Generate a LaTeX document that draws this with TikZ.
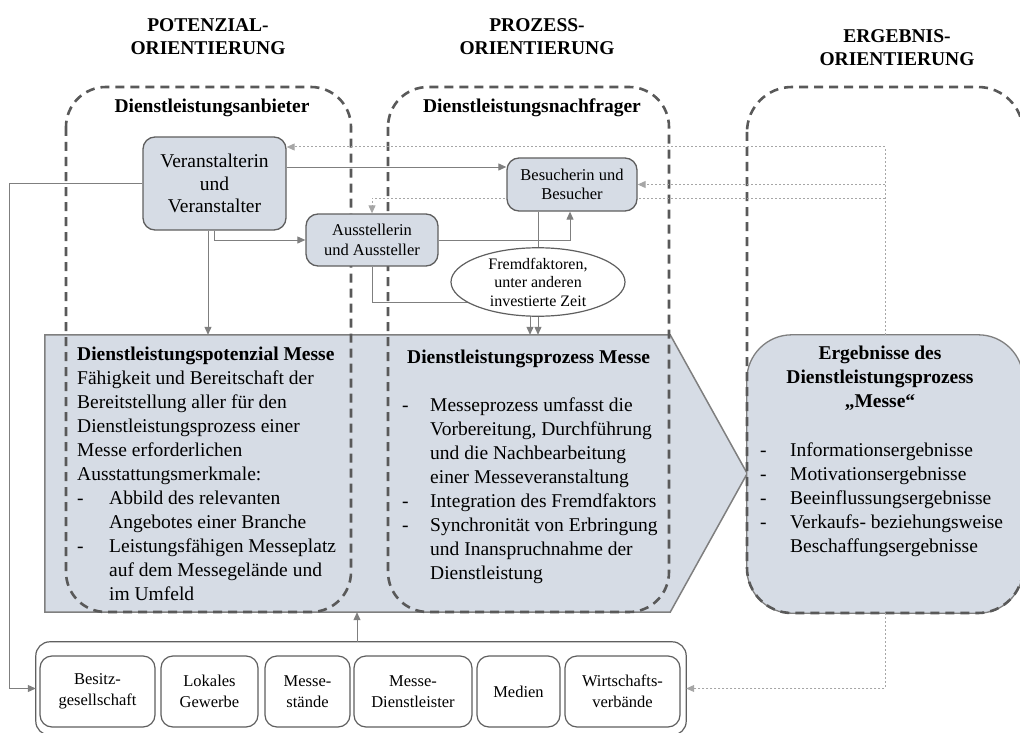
\documentclass[tikz,border=0pt]{standalone}
\usepackage{fontspec}
\setmainfont{Liberation Serif}
\usetikzlibrary{arrows.meta,shapes.geometric}

\definecolor{boxfill}{HTML}{D6DCE5}
\definecolor{boxline}{HTML}{5F5F5F}
\definecolor{connline}{HTML}{7F7F7F}
\definecolor{dotline}{HTML}{A6A6A6}
\definecolor{colline}{HTML}{595959}

\newcommand{\bodyfont}{\fontsize{19.5}{24}\selectfont}
\newcommand{\actorfont}{\fontsize{19.5}{22.5}\selectfont}
\newcommand{\smallfont}{\fontsize{16.5}{19.5}\selectfont}
\newcommand{\tinyfont}{\fontsize{16}{18.5}\selectfont}
\newcommand{\rowfont}{\fontsize{16.5}{21.5}\selectfont}
\newcommand{\headfont}{\fontsize{19.5}{23}\selectfont\bfseries}

\pgfdeclarelayer{back}
\pgfdeclarelayer{links}
\pgfsetlayers{back,links,main}

\begin{document}
\begin{tikzpicture}[x=1pt,y=-1pt,
  column/.style={draw=colline, line width=2.6pt, dash pattern=on 9pt off 6pt, rounded corners=40pt},
  actor/.style={draw=boxline, line width=1.3pt, fill=boxfill, rounded corners=12pt,
                align=center, inner sep=0pt},
  member/.style={draw=boxline, line width=1.2pt, fill=white, rounded corners=12pt,
                 align=center, inner sep=0pt, minimum height=71pt, font=\rowfont},
  conn/.style={draw=connline, line width=1pt},
  dotconn/.style={draw=dotline, line width=1pt, dash pattern=on 2pt off 2pt},
  arrowed/.style={-{Triangle[length=8pt,width=7pt]}},
  header/.style={align=center, font=\headfont, inner sep=0pt},
  label/.style={font=\fontsize{19.5}{23}\selectfont\bfseries, inner sep=0pt},
  textblock/.style={anchor=base west, inner sep=0pt}
]
\useasboundingbox (0,0) rectangle (1020,733);

% orientation headings
\node[header] (hPot)  at (208,37) {POTENZIAL-\\ORIENTIERUNG};
\node[header] (hProz) at (537,37) {PROZESS-\\ORIENTIERUNG};
\node[header] (hErg)  at (897,48) {ERGEBNIS-\\ORIENTIERUNG};

% service process (pentagon) and results box, with the dashed columns on top
\node[minimum width=625pt, minimum height=277pt, inner sep=0pt] (mainbox) at (357.5,473.5) {};
\node[minimum width=276pt, minimum height=278pt, inner sep=0pt] (ergeb) at (885,474) {};
\begin{pgfonlayer}{back}
\begin{scope}
\clip (0,0) rectangle (1020,733);
\draw[draw=connline, line width=1.5pt, fill=boxfill]
  (mainbox.north west) -- (mainbox.north east) -- ([xshift=77pt]mainbox.east)
  -- (mainbox.south east) -- (mainbox.south west) -- cycle;
\draw[draw=connline, line width=1.3pt, fill=boxfill, rounded corners=45pt]
  (ergeb.north west) rectangle (ergeb.south east);
\draw[column] (66,87) rectangle (351,612);
\draw[column] (388,87) rectangle (669,612);
\draw[column, rounded corners=45pt] (747,87) rectangle (1023,613);
\end{scope}
\end{pgfonlayer}

\node[label] (lAnb) at (212,108) {Dienstleistungsanbieter};
\node[label] (lNach) at (532,108) {Dienstleistungsnachfrager};

% actors
\node[actor, minimum width=143pt, minimum height=93pt, font=\actorfont] (veranst) at (214.5,183.5)
  {Veranstalterin\\und\\Veranstalter};
\node[actor, minimum width=132pt, minimum height=52pt, font=\smallfont] (aussteller) at (372,240)
  {Ausstellerin\\und Aussteller};
\node[actor, minimum width=130pt, minimum height=53pt, font=\smallfont] (besucher) at (572,184.5)
  {Besucherin und\\Besucher};

% external factors
\node[ellipse, draw=boxline, line width=1.2pt, fill=white, minimum width=174pt, minimum height=64pt,
      inner sep=0pt, align=center, font=\tinyfont] (fremd) at (538,282)
  {Fremdfaktoren,\\unter anderen\\investierte Zeit};

% stakeholder row
\node[minimum width=650pt, minimum height=93pt, inner sep=0pt] (outer) at (361,688.5) {};
\begin{pgfonlayer}{back}
\begin{scope}
\clip (0,0) rectangle (1020,733);
\draw[draw=boxline, line width=1.2pt, rounded corners=14pt] (outer.north west) rectangle (outer.south east);
\end{scope}
\end{pgfonlayer}
\node[member, minimum width=115pt] (m1) at (97.5,691.5) {Besitz-\\gesellschaft};
\node[member, minimum width=97pt]  (m2) at (209.5,691.5) {Lokales\\Gewerbe};
\node[member, minimum width=85pt]  (m3) at (307.5,691.5) {Messe-\\stände};
\node[member, minimum width=118pt] (m4) at (413,691.5) {Messe-\\Dienstleister};
\node[member, minimum width=83pt]  (m5) at (518.5,691.5) {Medien};
\node[member, minimum width=115pt] (m6) at (622.5,691.5) {Wirtschafts-\\verbände};

\begin{pgfonlayer}{links}
% solid connectors
\draw[conn, arrowed] (veranst.west) -- ++(-133,0) |- (outer.west);
\draw[conn, arrowed] (veranst.east |- 0,167) -- (besucher.west |- 0,167);
\draw[conn, arrowed] (veranst.south) |- (aussteller.west);
\draw[conn, arrowed] ([xshift=-6.5pt]veranst.south) -- ([xshift=-6.5pt]veranst.south |- mainbox.north);
\draw[conn, arrowed] (aussteller.east) -| ([xshift=-2pt]besucher.south);
\draw[conn, arrowed] (aussteller.south) -- ++(0,36) -| ([xshift=-8pt]fremd.south |- mainbox.north);
\draw[conn] (fremd.north |- besucher.south) -- (fremd.north);
\draw[conn, arrowed] (fremd.south) -- (fremd.south |- mainbox.north);
\draw[conn, arrowed] ([xshift=-4pt]outer.north) -- ([xshift=-4pt]outer.north |- mainbox.south);

% dotted feedback connectors
\draw[dotconn, arrowed] (ergeb.north) -- (ergeb.north |- 0,147) -- (veranst.east |- 0,147);
\draw[dotconn, arrowed] (ergeb.north |- besucher.east) -- (besucher.east);
\draw[dotconn, arrowed] (ergeb.north |- 0,198) -- (aussteller.north |- 0,198) -- (aussteller.north);
\draw[dotconn, arrowed] (ergeb.south) |- (outer.east);
\end{pgfonlayer}

% texts of the three blocks
\node[textblock] (potText) at (77,360) {\parbox[t]{300pt}{\bodyfont\raggedright
\textbf{Dienstleistungspotenzial Messe}\\
Fähigkeit und Bereitschaft der\\
Bereitstellung aller für den\\
Dienstleistungsprozess einer\\
Messe erforderlichen\\
Ausstattungsmerkmale:\\
\makebox[32pt][l]{-}Abbild des relevanten\\
\hspace*{32pt}Angebotes einer Branche\\
\makebox[32pt][l]{-}Leistungsfähigen Messeplatz\\
\hspace*{32pt}auf dem Messegelände und\\
\hspace*{32pt}im Umfeld}};

\node[textblock] (procText) at (402,363) {\parbox[t]{300pt}{\bodyfont\raggedright
\hspace*{5pt}\textbf{Dienstleistungsprozess Messe}\\[24pt]
\makebox[28pt][l]{-}Messeprozess umfasst die\\
\hspace*{28pt}Vorbereitung, Durchführung\\
\hspace*{28pt}und die Nachbearbeitung\\
\hspace*{28pt}einer Messeveranstaltung\\
\makebox[28pt][l]{-}Integration des Fremdfaktors\\
\makebox[28pt][l]{-}Synchronität von Erbringung\\
\hspace*{28pt}und Inanspruchnahme der\\
\hspace*{28pt}Dienstleistung}};

\node[anchor=base, inner sep=0pt] (ergHead) at (880,359) {\parbox[t]{250pt}{\bodyfont\centering\bfseries
Ergebnisse des\\Dienstleistungsprozess\\„Messe“}};

\node[textblock] (ergText) at (760,456) {\parbox[t]{260pt}{\bodyfont\raggedright
\makebox[30pt][l]{-}Informationsergebnisse\\
\makebox[30pt][l]{-}Motivationsergebnisse\\
\makebox[30pt][l]{-}Beeinflussungsergebnisse\\
\makebox[30pt][l]{-}Verkaufs- beziehungsweise\\
\hspace*{30pt}Beschaffungsergebnisse}};
\end{tikzpicture}
\end{document}
